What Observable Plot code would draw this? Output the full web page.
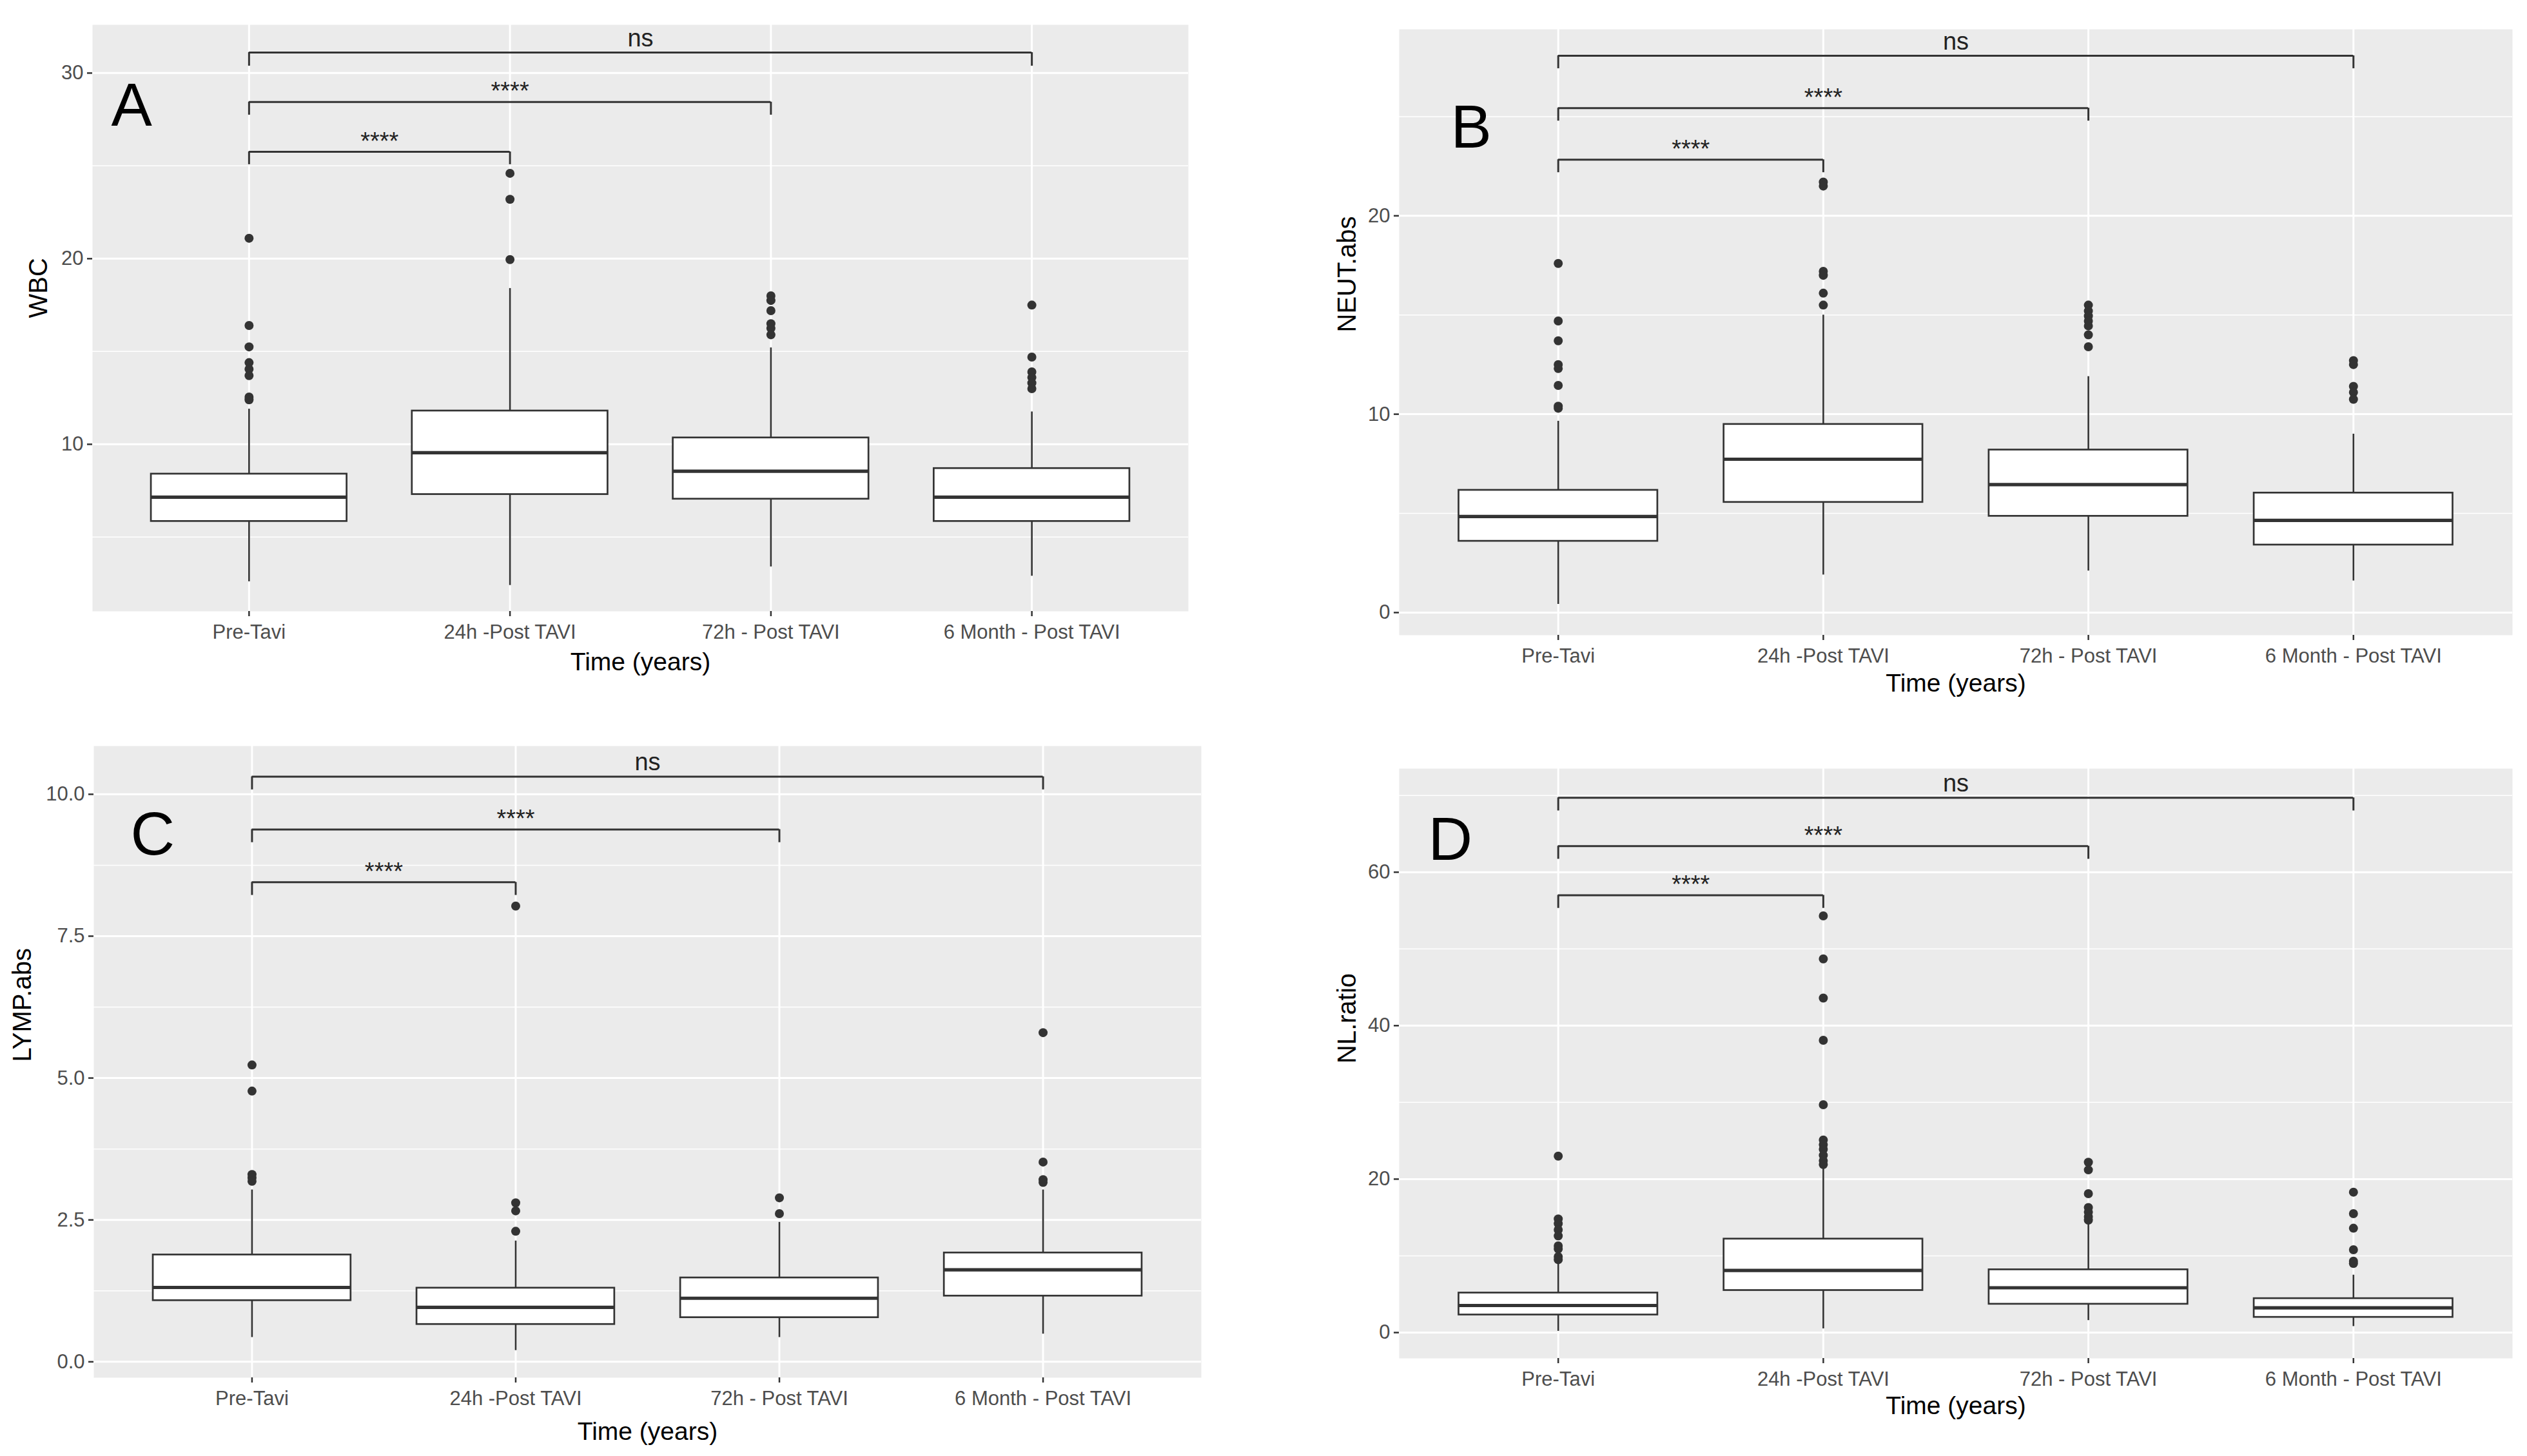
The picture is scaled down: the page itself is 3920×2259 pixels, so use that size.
<!DOCTYPE html>
<html>
<head>
<meta charset="utf-8">
<script src="https://cdn.jsdelivr.net/npm/d3@7"></script>
<script src="https://cdn.jsdelivr.net/npm/@observablehq/plot@0.6"></script>
<style>
  html, body { margin: 0; padding: 0; background: #ffffff; }
  #page { position: relative; width: 3920px; height: 2259px; background: #ffffff; overflow: hidden; }
  .panel { position: absolute; }
  .panel svg { overflow: visible; }
</style>
</head>
<body>
<div id="page"></div>
<script>
// ---------- data ----------
const categories = ["Pre-Tavi", "24h -Post TAVI", "72h - Post TAVI", "6 Month - Post TAVI"];
const xTitle = "Time (years)";
const bracketTargets = ["24h -Post TAVI", "72h - Post TAVI", "6 Month - Post TAVI"];
const bracketLabels = ["****", "****", "ns"];

// Panel A: WBC
const wbcLow  = [2.6, 2.4, 3.4, 2.9];
const wbcQ1   = [5.85, 7.3, 7.05, 5.85];
const wbcMed  = [7.15, 9.55, 8.55, 7.15];
const wbcQ3   = [8.4, 11.8, 10.35, 8.7];
const wbcHigh = [11.9, 18.4, 15.2, 11.75];
const wbcOut  = [[21.1, 16.4, 15.25, 14.4, 14.05, 13.7, 12.55, 12.4], [24.6, 23.2, 19.95], [18.0, 17.75, 17.2, 16.5, 16.25, 15.9], [17.5, 14.7, 13.9, 13.6, 13.3, 13.0]];
const wbcBracket = [25.76, 28.44, 31.11];
const wbcTip     = [25.07, 27.74, 30.38];
const wbcTicks = [10, 20, 30];
const wbcMinor = [5, 15, 25];

// Panel B: NEUT.abs
const neutLow  = [0.42, 1.9, 2.1, 1.6];
const neutQ1   = [3.6, 5.56, 4.86, 3.41];
const neutMed  = [4.84, 7.73, 6.45, 4.65];
const neutQ3   = [6.17, 9.49, 8.2, 6.03];
const neutHigh = [9.65, 15.0, 11.9, 9.0];
const neutOut  = [[17.6, 14.7, 13.7, 12.5, 12.3, 11.45, 10.4, 10.3], [21.7, 21.5, 17.2, 17.0, 16.1, 15.5], [15.5, 15.2, 14.95, 14.7, 14.45, 14.0, 13.4], [12.7, 12.5, 11.4, 11.1, 10.75]];
const neutBracket = [22.83, 25.43, 28.07];
const neutTip     = [22.18, 24.78, 27.42];
const neutTicks = [0, 10, 20];
const neutMinor = [5, 15, 25];

// Panel C: LYMP.abs
const lympLow  = [0.43, 0.2, 0.43, 0.49];
const lympQ1   = [1.08, 0.66, 0.78, 1.16];
const lympMed  = [1.31, 0.96, 1.12, 1.62];
const lympQ3   = [1.885, 1.3, 1.48, 1.92];
const lympHigh = [3.03, 2.13, 2.46, 3.03];
const lympOut  = [[5.23, 4.77, 3.3, 3.24, 3.18], [8.03, 2.8, 2.66, 2.3], [2.89, 2.61], [5.8, 3.52, 3.21, 3.16]];
const lympBracket = [8.45, 9.38, 10.31];
const lympTip     = [8.22, 9.15, 10.08];
const lympTicks = [0, 2.5, 5, 7.5, 10];
const lympMinor = [1.25, 3.75, 6.25, 8.75];

// Panel D: NL.ratio
const nlLow  = [0.18, 0.5, 1.58, 0.8];
const nlQ1   = [2.31, 5.5, 3.71, 2.0];
const nlMed  = [3.53, 8.1, 5.84, 3.22];
const nlQ3   = [5.17, 12.2, 8.2, 4.44];
const nlHigh = [9.0, 21.8, 14.2, 7.5];
const nlOut  = [[23.0, 14.8, 14.2, 13.4, 12.6, 11.3, 10.9, 9.9, 9.5], [54.3, 48.7, 43.6, 38.1, 29.7, 25.1, 24.5, 23.9, 23.1, 22.4, 21.9], [22.2, 21.2, 18.1, 16.3, 15.7, 15.1, 14.65], [18.3, 15.5, 13.6, 10.8, 9.3, 9.0]];
const nlBracket = [57.0, 63.4, 69.7];
const nlTip     = [55.3, 61.7, 68.0];
const nlTicks = [0, 20, 40, 60];
const nlMinor = [10, 30, 50, 70];

// ---------- layout / style ----------
const FONT = "'Liberation Sans', Arial, Helvetica, sans-serif";
const BOX_HALF = 0.375; // ggplot default width 0.75
const panels = [
  {letter: "A", yTitle: "WBC", low: wbcLow, q1: wbcQ1, med: wbcMed, q3: wbcQ3, high: wbcHigh, out: wbcOut,
   br: wbcBracket, tip: wbcTip, ticks: wbcTicks, minor: wbcMinor, fmt: d3.format("d"), domain: [1.0, 32.6],
   left: 0, top: 0, width: 1960, height: 1080, mL: 143, mR: 117, mT: 38, mB: 132,
   letterDx: 29, letterDy: 126, yTitleDx: -83, xTitleDy: 79},
  {letter: "B", yTitle: "NEUT.abs", low: neutLow, q1: neutQ1, med: neutMed, q3: neutQ3, high: neutHigh, out: neutOut,
   br: neutBracket, tip: neutTip, ticks: neutTicks, minor: neutMinor, fmt: d3.format("d"), domain: [-1.14, 29.4],
   left: 1960, top: 0, width: 1960, height: 1080, mL: 210, mR: 23, mT: 45, mB: 95,
   letterDx: 80, letterDy: 153, yTitleDx: -80, xTitleDy: 75},
  {letter: "C", yTitle: "LYMP.abs", low: lympLow, q1: lympQ1, med: lympMed, q3: lympQ3, high: lympHigh, out: lympOut,
   br: lympBracket, tip: lympTip, ticks: lympTicks, minor: lympMinor, fmt: d3.format(".1f"), domain: [-0.28, 10.85],
   left: 0, top: 1100, width: 1960, height: 1159, mL: 145, mR: 97, mT: 57, mB: 122,
   letterDx: 57, letterDy: 138, yTitleDx: -110, xTitleDy: 84},
  {letter: "D", yTitle: "NL.ratio", low: nlLow, q1: nlQ1, med: nlMed, q3: nlQ3, high: nlHigh, out: nlOut,
   br: nlBracket, tip: nlTip, ticks: nlTicks, minor: nlMinor, fmt: d3.format("d"), domain: [-3.36, 73.5],
   left: 1960, top: 1100, width: 1960, height: 1159, mL: 210, mR: 23, mT: 92, mB: 152,
   letterDx: 45, letterDy: 111, yTitleDx: -80, xTitleDy: 74}
];

const page = document.getElementById("page");

for (const p of panels) {
  const boxes = categories.map((c, i) => ({i, low: p.low[i], q1: p.q1[i], med: p.med[i], q3: p.q3[i], high: p.high[i]}));
  const outliers = p.out.flatMap((vals, i) => vals.map(v => ({i, v})));
  const fromIdx = categories.indexOf("Pre-Tavi");
  const brackets = bracketTargets.map((t, k) => ({
    a: fromIdx, b: categories.indexOf(t), y: p.br[k], tip: p.tip[k], label: bracketLabels[k]
  }));
  const bracketTips = brackets.flatMap(d => [{x: d.a, y1: d.tip, y2: d.y}, {x: d.b, y1: d.tip, y2: d.y}]);
  const stroke = "#333333";

  const chart = Plot.plot({
    width: p.width,
    height: p.height,
    marginLeft: p.mL, marginRight: p.mR, marginTop: p.mT, marginBottom: p.mB,
    style: {fontFamily: FONT, background: "transparent", overflow: "visible"},
    x: {type: "linear", domain: [-0.6, categories.length - 0.4], label: null},
    y: {domain: p.domain, label: null},
    marks: [
      Plot.frame({fill: "#EBEBEB", stroke: null}),
      Plot.ruleY(p.minor, {stroke: "white", strokeWidth: 1.5}),
      Plot.ruleY(p.ticks, {stroke: "white", strokeWidth: 3}),
      Plot.ruleX(categories.map((c, i) => i), {stroke: "white", strokeWidth: 3}),
      // whiskers
      Plot.ruleX(boxes, {x: "i", y1: "low", y2: "q1", stroke, strokeWidth: 2.6}),
      Plot.ruleX(boxes, {x: "i", y1: "q3", y2: "high", stroke, strokeWidth: 2.6}),
      // boxes
      Plot.rect(boxes, {x1: d => d.i - BOX_HALF, x2: d => d.i + BOX_HALF, y1: "q1", y2: "q3", fill: "white", stroke, strokeWidth: 2.7}),
      // medians
      Plot.ruleY(boxes, {x1: d => d.i - BOX_HALF, x2: d => d.i + BOX_HALF, y: "med", stroke, strokeWidth: 5.2}),
      // outliers
      Plot.dot(outliers, {x: "i", y: "v", r: 7, fill: stroke, stroke: null}),
      // significance brackets
      Plot.ruleY(brackets, {x1: "a", x2: "b", y: "y", stroke, strokeWidth: 3}),
      Plot.ruleX(bracketTips, {x: "x", y1: "y1", y2: "y2", stroke, strokeWidth: 3}),
      Plot.text(brackets.filter(d => d.label !== "ns"), {x: d => (d.a + d.b) / 2, y: "y", text: "label", fontSize: 38, fill: "#222", lineAnchor: "middle", dy: -16}),
      Plot.text(brackets.filter(d => d.label === "ns"), {x: d => (d.a + d.b) / 2, y: "y", text: "label", fontSize: 38, fill: "#222", lineAnchor: "middle", dy: -22}),
      // panel letter
      Plot.text([p.letter], {text: d => d, frameAnchor: "top-left", textAnchor: "start", lineAnchor: "middle", dx: p.letterDx, dy: p.letterDy, fontSize: 95, fill: "black"}),
      // axes
      Plot.axisX(categories.map((c, i) => i), {tickFormat: i => categories[i], tickSize: 8, tickPadding: 12, fontSize: 31, fill: "#4D4D4D", stroke, strokeWidth: 2.5, label: null}),
      Plot.axisY(p.ticks, {tickFormat: p.fmt, tickSize: 8, tickPadding: 6, fontSize: 31, fill: "#4D4D4D", stroke, strokeWidth: 2.5, label: null}),
      // axis titles
      Plot.text([xTitle], {text: d => d, frameAnchor: "bottom", lineAnchor: "middle", dy: p.xTitleDy, fontSize: 39, fill: "black"}),
      Plot.text([p.yTitle], {text: d => d, frameAnchor: "left", lineAnchor: "middle", rotate: -90, dx: p.yTitleDx, fontSize: 40, fill: "black"})
    ]
  });
  const holder = document.createElement("div");
  holder.className = "panel";
  holder.style.left = p.left + "px";
  holder.style.top = p.top + "px";
  holder.appendChild(chart);
  page.appendChild(holder);
}
</script>
</body>
</html>
